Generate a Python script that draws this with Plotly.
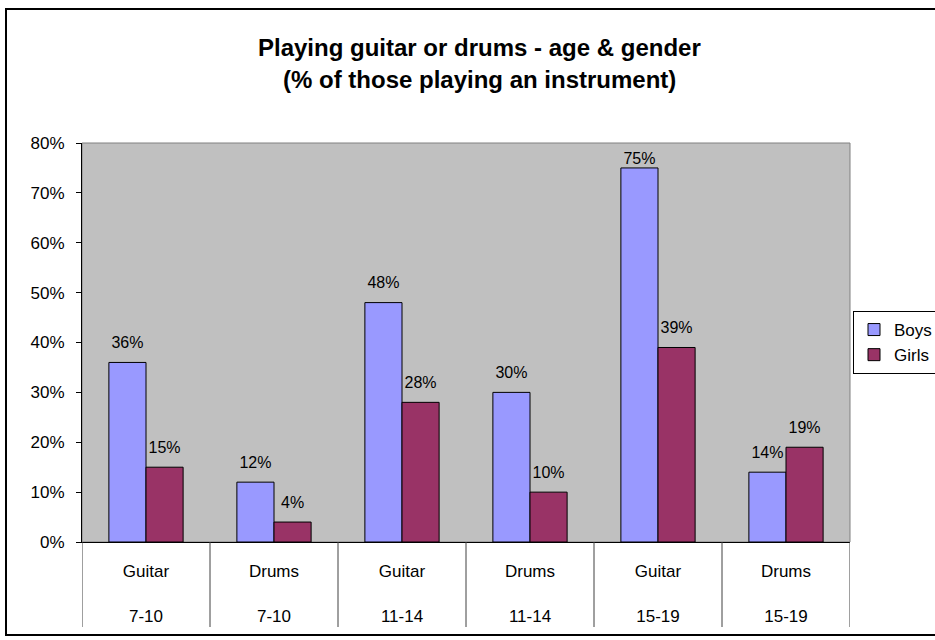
import plotly.graph_objects as go

instruments = ["Guitar", "Drums", "Guitar", "Drums", "Guitar", "Drums"]
age_groups = ["7-10", "7-10", "11-14", "11-14", "15-19", "15-19"]
boys = [0.36, 0.12, 0.48, 0.30, 0.75, 0.14]
girls = [0.15, 0.04, 0.28, 0.10, 0.39, 0.19]
y_ticks = [0, 0.1, 0.2, 0.3, 0.4, 0.5, 0.6, 0.7, 0.8]

FONT = "Liberation Sans, Arial, sans-serif"
W, H = 935, 640
ML, MR, MT, MB = 82, 85, 143, 98
pw = W - ML - MR
ph = H - MT - MB
Y_MAX = y_ticks[-1]

def px_x(p):
    return (p - ML) / pw

def px_y(p):
    return (H - MB - p) / ph

idx = list(range(len(instruments)))
labels = [f"{a}<br><br>{b}" for a, b in zip(instruments, age_groups)]

def label_gap(v):
    # keep labels inside the plot area near the top, as Excel does
    return 0 if v / Y_MAX > 0.9 else 15

fig = go.Figure()
for name, vals, color in [("Boys", boys, "#9999FF"), ("Girls", girls, "#993366")]:
    fig.add_trace(go.Bar(
        x=idx, y=vals, name=name, offsetgroup=name, alignmentgroup="g",
        marker=dict(color=color, line=dict(color="black", width=1)),
        hoverinfo="y",
    ))
for name, vals in [("Boys", boys), ("Girls", girls)]:
    fig.add_trace(go.Scatter(
        x=idx, y=vals, mode="markers+text", offsetgroup=name, alignmentgroup="g",
        marker=dict(size=[label_gap(v) for v in vals], opacity=0),
        showlegend=False, hoverinfo="skip",
        text=[f"{v:.0%}" for v in vals], textposition="top center",
        textfont=dict(family=FONT, size=16, color="black"), cliponaxis=False,
    ))

shapes = []
# category dividers below the axis
for i in range(len(instruments) + 1):
    shapes.append(dict(type="line", xref="x", yref="paper",
                       x0=i - 0.5, x1=i - 0.5, y0=0, y1=px_y(627),
                       line=dict(color="#404040", width=1)))
# plot area border
shapes.append(dict(type="rect", xref="paper", yref="paper", x0=0, x1=1, y0=0, y1=1,
                   line=dict(color="#808080", width=1), layer="below"))
# outer chart border
shapes.append(dict(type="rect", xref="paper", yref="paper",
                   x0=px_x(6), x1=px_x(960), y0=px_y(635), y1=px_y(9),
                   line=dict(color="black", width=2)))

fig.update_layout(
    width=W, height=H,
    margin=dict(l=ML, r=MR, t=MT, b=MB, autoexpand=False),
    paper_bgcolor="white", plot_bgcolor="#C0C0C0",
    barmode="group", bargap=0.42, bargroupgap=0,
    scattermode="group", scattergap=0.42,
    font=dict(family=FONT, color="black"),
    showlegend=True,
    legend=dict(x=px_x(853), y=px_y(311), xanchor="left", yanchor="top",
                bgcolor="white", bordercolor="black", borderwidth=1,
                font=dict(family=FONT, size=17, color="black")),
    shapes=shapes,
    annotations=[
        dict(text="<b>Playing guitar or drums - age & gender</b>", xref="paper", yref="paper",
             x=px_x(479), y=px_y(47), showarrow=False, xanchor="center", yanchor="middle",
             font=dict(family=FONT, size=24, color="black")),
        dict(text="<b>(% of those playing an instrument)</b>", xref="paper", yref="paper",
             x=px_x(479), y=px_y(80), showarrow=False, xanchor="center", yanchor="middle",
             font=dict(family=FONT, size=24, color="black")),
    ],
)

fig.update_xaxes(
    tickmode="array", tickvals=idx, ticktext=labels,
    range=[-0.5, len(instruments) - 0.5],
    showline=True, linecolor="black", linewidth=1,
    ticks="", showgrid=False, zeroline=False,
    tickfont=dict(family=FONT, size=17, color="black"),
    ticklabelstandoff=14,
)
fig.update_yaxes(
    range=[0, Y_MAX], tickmode="array", tickvals=y_ticks, tickformat=".0%",
    showline=True, linecolor="black", linewidth=1,
    ticks="outside", ticklen=5, tickcolor="black",
    showgrid=False, zeroline=False,
    tickfont=dict(family=FONT, size=17, color="black"),
    ticklabelstandoff=8,
)

fig.write_html(
    "out.html",
    config={"displayModeBar": False},
    post_script="document.body.style.margin='0';document.body.style.overflow='hidden';",
)
